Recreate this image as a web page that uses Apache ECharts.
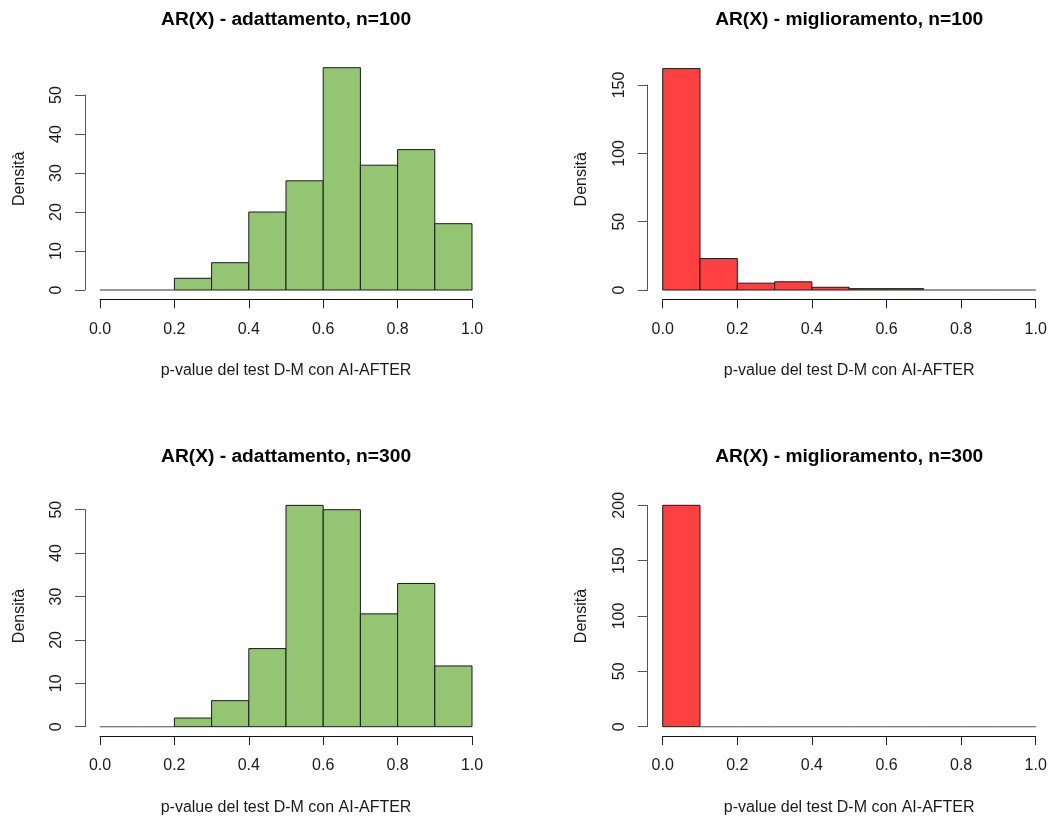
<!DOCTYPE html>
<html>
<head>
<meta charset="utf-8">
<title>AR(X) - p-value del test D-M</title>
<script src="https://cdn.jsdelivr.net/npm/echarts@6/dist/echarts.min.js"></script>
<style>
  html, body { margin: 0; padding: 0; background: #fff; }
  #chart { width: 1059px; height: 820px; }
</style>
</head>
<body>
<div id="chart"></div>
<script>
// Histogram bin edges (p-value classes of width 0.1)
const breaks = [0.0, 0.1, 0.2, 0.3, 0.4, 0.5, 0.6, 0.7, 0.8, 0.9, 1.0];

// Counts per bin, one array per panel
const adattamento100   = [0, 0, 3, 7, 20, 28, 57, 32, 36, 17];
const miglioramento100 = [162, 23, 5, 6, 2, 1, 1, 0, 0, 0];
const adattamento300   = [0, 0, 2, 6, 18, 51, 50, 26, 33, 14];
const miglioramento300 = [200, 0, 0, 0, 0, 0, 0, 0, 0, 0];

// Axis ticks
const xTickStep = 0.2;
const yTicksAdatt = { max: 50, step: 10 };
const yTicksMigl100 = { max: 150, step: 50 };
const yTicksMigl300 = { max: 200, step: 50 };

// Titles and labels
const titles = [
  'AR(X) - adattamento, n=100',
  'AR(X) - miglioramento, n=100',
  'AR(X) - adattamento, n=300',
  'AR(X) - miglioramento, n=300'
];
const xLabel = 'p-value del test D-M con AI-AFTER';
const yLabel = 'Densità';

const GREEN = '#93C572';
const RED = '#FF4040';
const FONT = '"Liberation Sans", Arial, sans-serif';

// Layout: "data" is the area spanned by the axis ticks, "frame" is the full plot region
const panels = [
  { counts: adattamento100, color: GREEN, yt: yTicksAdatt, title: titles[0],
    data: { left: 100, top: 95, width: 372, height: 195 },
    frame: { left: 85.1, top: 58.8, width: 401.9, height: 240.1 }, titleY: 20 },
  { counts: miglioramento100, color: RED, yt: yTicksMigl100, title: titles[1],
    data: { left: 662.7, top: 85, width: 373, height: 205 },
    frame: { left: 647.8, top: 59.7, width: 402.8, height: 239.2 }, titleY: 20 },
  { counts: adattamento300, color: GREEN, yt: yTicksAdatt, title: titles[2],
    data: { left: 100, top: 509.7, width: 372, height: 217 },
    frame: { left: 85.1, top: 496.5, width: 401.9, height: 239.1 }, titleY: 457 },
  { counts: miglioramento300, color: RED, yt: yTicksMigl300, title: titles[3],
    data: { left: 662.7, top: 505.3, width: 373, height: 221.4 },
    frame: { left: 647.8, top: 496.4, width: 402.8, height: 239.2 }, titleY: 457 }
];

const grids = [], xAxes = [], yAxes = [], series = [], graphics = [];

panels.forEach((p, i) => {
  const dataIdx = grids.length;
  grids.push(Object.assign({ containLabel: false }, p.data));
  const frameIdx = grids.length;
  grids.push(Object.assign({ containLabel: false }, p.frame));

  // visible axes on the data grid, drawn a little away from the bars
  xAxes.push({
    gridIndex: dataIdx, type: 'value', min: 0, max: 1, interval: xTickStep,
    position: 'bottom', offset: 9.3,
    axisLine: { show: true, onZero: false, lineStyle: { color: '#111', width: 1 } },
    axisTick: { show: true, inside: false, length: 9, lineStyle: { color: '#222' } },
    axisLabel: { show: true, margin: 22, color: '#1a1a1a', fontFamily: FONT, fontSize: 16,
                 formatter: v => v.toFixed(1) },
    splitLine: { show: false }
  });
  yAxes.push({
    gridIndex: dataIdx, type: 'value', min: 0, max: p.yt.max, interval: p.yt.step,
    position: 'left', offset: 15,
    axisLine: { show: true, onZero: false, lineStyle: { color: '#555', width: 1 } },
    axisTick: { show: true, inside: false, length: 10, lineStyle: { color: '#555' } },
    axisLabel: { show: true, rotate: 90, margin: 20, color: '#1a1a1a', fontFamily: FONT, fontSize: 16 },
    splitLine: { show: false }
  });

  // frame axes carry only the axis titles
  xAxes.push({
    gridIndex: frameIdx, type: 'value', min: 0, max: 1,
    axisLine: { show: false, onZero: false }, axisTick: { show: false }, axisLabel: { show: false },
    splitLine: { show: false },
    name: xLabel, nameLocation: 'middle', nameGap: 64,
    nameTextStyle: { color: '#1a1a1a', fontFamily: FONT, fontSize: 16 }
  });
  yAxes.push({
    gridIndex: frameIdx, type: 'value', min: 0, max: 1,
    axisLine: { show: false, onZero: false }, axisTick: { show: false }, axisLabel: { show: false },
    splitLine: { show: false },
    name: yLabel, nameLocation: 'middle', nameGap: 58, nameRotate: 90,
    nameTextStyle: { color: '#1a1a1a', fontFamily: FONT, fontSize: 16 }
  });

  const binData = p.counts.map((c, k) => [breaks[k], breaks[k + 1], c]);
  series.push({
    type: 'custom',
    xAxisIndex: dataIdx, yAxisIndex: dataIdx,
    clip: false,
    silent: true,
    data: binData,
    renderItem: (params, api) => {
      const x0 = api.value(0), x1 = api.value(1), c = api.value(2);
      const pLow = api.coord([x0, 0]);
      const pHigh = api.coord([x1, c]);
      return {
        type: 'rect',
        shape: { x: pLow[0], y: pHigh[1], width: pHigh[0] - pLow[0], height: pLow[1] - pHigh[1] },
        // empty bins collapse to a thin baseline segment
        style: { fill: p.color, stroke: c === 0 ? '#777' : '#1a1a1a', lineWidth: 1 }
      };
    }
  });

  graphics.push({
    type: 'text',
    x: p.frame.left + p.frame.width / 2,
    y: p.titleY,
    style: {
      text: p.title, fill: '#000', font: 'bold 19.2px ' + FONT,
      textAlign: 'center', textVerticalAlign: 'middle'
    }
  });
});

const chart = echarts.init(document.getElementById('chart'), null, { renderer: 'canvas' });
chart.setOption({
  animation: false,
  backgroundColor: '#fff',
  grid: grids,
  xAxis: xAxes,
  yAxis: yAxes,
  series: series,
  graphic: graphics
});
</script>
</body>
</html>
